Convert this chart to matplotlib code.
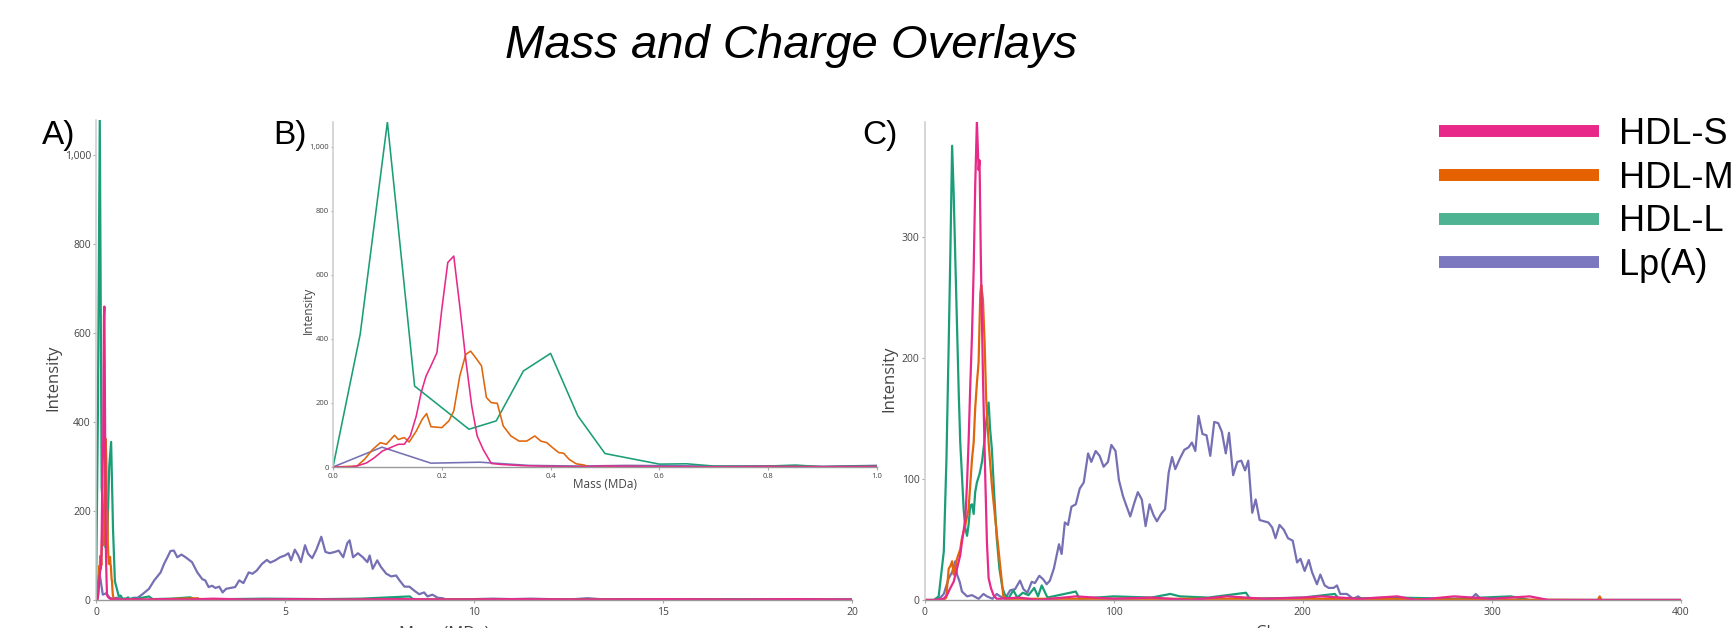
import matplotlib.pyplot as plt
from matplotlib.ticker import FuncFormatter, MultipleLocator
from matplotlib.lines import Line2D

plt.rcParams['font.family'] = ['Open Sans', 'DejaVu Sans']

# ---------------------------------------------------------------
# data (mass in MDa, charge in e)
series = ['HDL-S', 'HDL-M', 'HDL-L', 'Lp(A)']

mass_s_x = [0.0, 0.03, 0.044, 0.062, 0.076, 0.091, 0.105, 0.12, 0.131, 0.142, 0.153, 0.162, 0.171, 0.18,
            0.191, 0.2, 0.211, 0.222, 0.233, 0.244, 0.255, 0.265, 0.276, 0.291, 0.309, 0.35, 0.4, 0.45, 0.5,
            0.6, 0.7, 0.8, 0.9, 1.0, 1.3, 1.8, 2.4, 3.1, 4.0, 5.2, 6.5, 8.0, 9.5, 11.0, 13.0, 15.0, 17.0, 18.5, 20.0]
mass_s_y = [0, 0, 3, 13, 29, 50, 60, 71, 71, 97, 159, 232, 284, 316,
            357, 493, 639, 659, 503, 336, 191, 97, 55, 11, 8, 4, 2, 1, 3,
            1, 1, 2, 1, 2, 1, 2, 1, 3, 1, 2, 1, 2, 1, 2, 1, 2, 1, 2, 1]

mass_m_x = [0.0, 0.044, 0.058, 0.073, 0.087, 0.098, 0.113, 0.12, 0.131, 0.14, 0.153, 0.164, 0.172, 0.18, 0.2,
            0.213, 0.222, 0.233, 0.244, 0.253, 0.262, 0.273, 0.282, 0.291, 0.302, 0.313, 0.327, 0.342, 0.356,
            0.371, 0.382, 0.393, 0.404, 0.415, 0.424, 0.434, 0.447, 0.462, 0.47, 0.55, 0.7, 0.85, 1.0, 2.7,
            2.75, 5.0, 10.0, 20.0]
mass_m_y = [0, 3, 24, 55, 76, 71, 99, 86, 92, 78, 112, 149, 167, 126, 123,
            144, 175, 284, 352, 362, 342, 316, 217, 201, 199, 128, 97, 81, 81,
            97, 81, 76, 60, 45, 43, 24, 10, 6, 0, 1, 0, 1, 0, 4,
            0, 0, 1, 0]

mass_l_x = [0.0, 0.05, 0.1, 0.15, 0.25, 0.3, 0.35, 0.4, 0.45, 0.5, 0.6, 0.65, 0.7, 0.75, 0.8, 0.85, 0.9, 0.95,
            1.0, 1.1, 1.4, 1.5, 2.0, 2.5, 2.6, 3.5, 4.5, 6.0, 7.0, 8.3, 8.4, 10.0, 12.0, 15.0, 20.0]
mass_l_y = [0, 415, 1078, 253, 118, 144, 300, 355, 160, 42, 9, 10, 3, 3, 3, 6, 1, 3,
            4, 3, 8, 2, 3, 6, 1, 2, 3, 2, 3, 8, 1, 2, 1, 2, 1]

mass_lpa_x = [0.0, 0.09, 0.18, 0.27, 0.36, 0.45, 0.54, 0.63, 0.72, 0.81, 0.9, 1.0,
              1.1, 1.23, 1.40, 1.54, 1.71, 1.80, 1.89, 1.97, 2.06, 2.15,
              2.26, 2.37, 2.54, 2.68, 2.81, 2.89, 2.98, 3.07, 3.16, 3.26,
              3.35, 3.44, 3.55, 3.68, 3.79, 3.90, 4.04, 4.14, 4.25, 4.39,
              4.52, 4.61, 4.74, 4.87, 5.00, 5.09, 5.16, 5.26, 5.35, 5.42,
              5.53, 5.61, 5.72, 5.83, 5.96, 6.07, 6.18, 6.32, 6.42, 6.54,
              6.65, 6.71, 6.80, 6.93, 7.06, 7.18, 7.24, 7.32, 7.44, 7.54,
              7.68, 7.81, 7.94, 8.03, 8.16, 8.29, 8.42, 8.55, 8.68, 8.77,
              8.90, 9.04, 9.17, 9.30, 9.43, 9.56,
              9.7, 10.0, 10.5, 11.0, 11.5, 12.0, 12.5, 13.0, 13.5, 14.0, 15.0, 16.0, 17.0, 18.0, 19.0, 20.0]
mass_lpa_y = [0, 62, 12, 15, 5, 3, 5, 4, 2, 3, 2, 5,
              5, 13, 25, 44, 62, 81, 96, 110, 111, 96,
              102, 96, 85, 62, 47, 44, 29, 32, 27, 30,
              17, 25, 27, 29, 44, 38, 62, 59, 66, 81,
              90, 84, 89, 96, 100, 105, 89, 113, 100, 85,
              123, 104, 94, 113, 142, 108, 105, 108, 111, 96,
              128, 134, 96, 105, 96, 85, 100, 70, 89, 74,
              59, 53, 55, 44, 30, 30, 21, 13, 17, 8,
              12, 5, 4, 0, 2, 0,
              1, 2, 3, 2, 3, 2, 1, 4, 1, 2, 1, 1, 1, 2, 1, 1]

charge_s_x = [0, 5, 10, 11.9, 13.7, 15.4, 17.2, 18.9, 19.8, 21.6, 22.5, 23.3, 24.2, 25.1, 26.0, 26.8, 27.7,
              28.6, 29.1, 29.8, 30.9, 32.1, 33.0, 33.9, 35.1, 36.5, 38.2, 40, 50, 60, 80, 100, 120, 140, 160,
              180, 200, 210, 230, 250, 260, 280, 300, 320, 330, 400]
charge_s_y = [0, 0, 1, 4, 10, 15, 26, 37, 48, 67, 97, 130, 177, 218, 273, 341, 395,
              355, 363, 281, 185, 103, 48, 18, 10, 4, 1, 1, 2, 0, 3, 1, 2, 0, 3,
              1, 2, 3, 1, 3, 0, 3, 1, 3, 0, 0]

charge_m_x = [0, 10, 11.5, 12.8, 13.7, 14.6, 15.4, 17.2, 18.9, 19.8, 21.6, 23.3, 25.1, 26.0, 26.8, 27.7, 28.6,
              29.5, 30.0, 30.9, 31.8, 32.6, 33.9, 35.6, 37.4, 39.1, 40.9, 41.7, 43, 100, 200, 356, 357, 358, 400]
charge_m_y = [0, 0, 2, 26, 28, 32, 21, 34, 42, 51, 62, 75, 116, 130, 158, 179, 196,
              253, 260, 248, 212, 166, 130, 95, 67, 42, 15, 3, 1, 1, 1, 0, 3, 0, 0]

charge_l_x = [0, 5, 7.5, 10.2, 11.6, 12.8, 13.7, 14.6, 15.4, 16.3, 17.2, 18.1, 18.9, 19.8, 20.7, 21.6, 22.5,
              23.3, 24.2, 25.1, 26.0, 26.8, 27.7, 29.1, 30.4, 31.6, 32.6, 33.9, 34.7, 35.6, 36.8, 38.2, 39.6,
              41.2, 42.6, 44.4, 45, 47, 49, 52, 55, 58, 60, 62, 65, 80, 82, 100, 120, 130, 135, 150, 170, 172,
              200, 217, 219, 250, 280, 310, 320, 400]
charge_l_y = [0, 0, 3, 40, 116, 212, 289, 375, 337, 281, 226, 171, 130, 103, 75, 59, 53,
              62, 78, 79, 71, 89, 97, 104, 114, 130, 147, 163, 141, 125, 89, 51, 26,
              10, 4, 1, 3, 8, 2, 6, 4, 10, 3, 12, 2, 7, 1, 3, 2, 5, 3, 2, 6, 1,
              2, 5, 1, 2, 1, 3, 0, 0]

charge_lpa_x = [0, 5, 8.4, 10.2, 12.8, 14.6, 16.3, 17.2, 18.6, 19.8, 22.5, 25.1, 28.6, 31.2, 33.0, 36.0, 38.2,
                40.0, 42.6, 45.3, 47.9, 50.5, 52.3, 54.4, 56.7, 58.4, 60.7, 62.8, 64.6, 66.3, 68.4, 69.9, 71.1,
                72.5, 74.2, 75.9, 77.7, 80.0, 82.1, 84.2, 86.5, 88.2, 90.5, 92.6, 94.7, 97.0, 98.8, 101.0,
                102.8, 104.9, 106.7, 108.8, 111.1, 112.8, 114.9, 116.9, 119.0, 121.1, 122.9, 125.1, 127.2,
                129.1, 130.9, 132.6, 135.1, 137.4, 139.6, 141.4, 143.2, 144.9, 147.0, 149.1, 151.1, 153.2,
                155.3, 157.2, 159.3, 161.0, 163.2, 165.4, 167.5, 169.5, 171.2, 173.3, 175.1, 177.2, 179.5,
                181.8, 183.8, 185.6, 187.7, 190.0, 192.2, 194.7, 197.0, 198.8, 201.0, 203.2, 204.9, 207.5,
                209.3, 211.6, 213.7, 216.3, 218.1, 219.8, 223.3, 226.7, 229.3, 231.9, 240, 260, 285, 289,
                291.5, 294, 300, 330, 400]
charge_lpa_y = [0, 0, 2, 5, 18, 23, 32, 21, 15, 7, 3, 4, 1, 5, 3, 1, 5,
                3, 1, 8, 9, 16, 9, 6, 15, 14, 20, 17, 13, 16, 26, 37, 46,
                38, 64, 62, 77, 79, 92, 97, 121, 114, 123, 119, 110, 114, 128, 123,
                99, 86, 78, 69, 81, 89, 83, 61, 79, 70, 65, 71, 75,
                105, 118, 108, 117, 124, 126, 130, 123, 152, 137, 136, 119, 147,
                146, 139, 121, 138, 103, 114, 115, 107, 115, 72, 83, 66, 65,
                64, 60, 51, 62, 58, 51, 49, 31, 34, 24, 33, 23, 13,
                21, 12, 10, 10, 12, 5, 5, 1, 3, 0, 1, 0, 0, 1,
                5, 1, 0, 0, 0]

line_colors = ['#e7298a', '#e0650b', '#1b9e77', '#7570b3']
legend_colors = ['#e8298a', '#e66100', '#4db392', '#7c78bf']

mass = [(mass_s_x, mass_s_y), (mass_m_x, mass_m_y), (mass_l_x, mass_l_y), (mass_lpa_x, mass_lpa_y)]
charge = [(charge_s_x, charge_s_y), (charge_m_x, charge_m_y), (charge_l_x, charge_l_y), (charge_lpa_x, charge_lpa_y)]

# ---------------------------------------------------------------
W, H = 1734, 628
fig = plt.figure(figsize=(W / 100, H / 100), dpi=100)


def px_box(l, t, r, b):
    return [l / W, 1 - b / H, (r - l) / W, (b - t) / H]


axA = fig.add_axes(px_box(96, 120, 852, 600))
axB = fig.add_axes(px_box(333, 122, 877, 467))
axC = fig.add_axes(px_box(924.5, 121.5, 1681, 600))
axB.set_facecolor('none')

comma = FuncFormatter(lambda v, p: f'{int(v):,}')


def style(ax, fs):
    for s in ['top', 'right']:
        ax.spines[s].set_visible(False)
    ax.spines['left'].set_color('#cccccc')
    ax.spines['left'].set_linewidth(1.1)
    ax.spines['bottom'].set_color('#999999')
    ax.spines['bottom'].set_linewidth(1.0)
    ax.tick_params(axis='both', colors='#444444', labelsize=fs, length=2.5, width=0.8)
    ax.tick_params(axis='both', color='#aaaaaa')
    ax.tick_params(axis='y', pad=1.2)
    ax.tick_params(axis='x', pad=2.5)


order = [3, 2, 1, 0]  # purple first, pink on top

for i in order:
    x, y = mass[i]
    axA.plot(x, y, color=line_colors[i], lw=1.6, solid_joinstyle='round')
    axB.plot(x, y, color=line_colors[i], lw=1.15, solid_joinstyle='round')
    x, y = charge[i]
    axC.plot(x, y, color=line_colors[i], lw=1.6, solid_joinstyle='round')

axA.set_xlim(0, 20)
axA.set_ylim(0, 1078)
axA.xaxis.set_major_locator(MultipleLocator(5))
axA.yaxis.set_major_locator(MultipleLocator(200))
axA.yaxis.set_major_formatter(comma)
style(axA, 7.5)

axB.set_xlim(0, 1.0)
axB.set_ylim(0, 1078)
axB.xaxis.set_major_locator(MultipleLocator(0.2))
axB.xaxis.set_major_formatter(FuncFormatter(lambda v, p: f'{v:.1f}'))
axB.yaxis.set_major_locator(MultipleLocator(200))
axB.yaxis.set_major_formatter(comma)
style(axB, 5.5)
axB.tick_params(length=1.8)

axC.set_xlim(0, 400)
axC.set_ylim(0, 395)
axC.xaxis.set_major_locator(MultipleLocator(100))
axC.yaxis.set_major_locator(MultipleLocator(100))
style(axC, 7.5)

# axis titles (the bottom ones run off the lower edge, as in the source)
lab = dict(color='#444444')
axA.set_ylabel('Intensity', fontsize=12, **lab)
axA.yaxis.set_label_coords(-0.0455, 0.4625)
axA.set_xlabel('Mass (MDa)', fontsize=12, **lab)
axA.xaxis.set_label_coords(0.46, -0.053)
axC.set_ylabel('Intensity', fontsize=12, **lab)
axC.yaxis.set_label_coords(-0.036, 0.4625)
axC.set_xlabel('Charge', fontsize=12, **lab)
axC.xaxis.set_label_coords(0.475, -0.053)
axB.set_ylabel('Intensity', fontsize=8.5, **lab)
axB.yaxis.set_label_coords(-0.0335, 0.455)
axB.set_xlabel('Mass (MDa)', fontsize=8.5, **lab)
axB.xaxis.set_label_coords(0.5, -0.032)
axA.xaxis.label.set_va('top')
axC.xaxis.label.set_va('top')
axB.xaxis.label.set_va('top')

# title and panel tags
fig.text(791 / W, 1 - 46 / H, 'Mass and Charge Overlays', ha='center', va='center',
         fontsize=34, style='italic', family='Liberation Sans')
for tag, xp in [('A)', 42), ('B)', 273), ('C)', 862)]:
    fig.text(xp / W, 1 - 144 / H, tag, fontsize=24, va='baseline', family='Liberation Sans')

handles = [Line2D([], [], color=c, lw=8.6, solid_capstyle='butt') for c in legend_colors]
fig.legend(handles, series, loc='upper left', bbox_to_anchor=(1439 / W, 1 - 117 / H),
           bbox_transform=fig.transFigure, frameon=False, prop={'family': 'Liberation Sans', 'size': 26},
           handlelength=4.43, handletextpad=0.55, labelspacing=0.24, borderpad=0, borderaxespad=0)

fig.savefig('out.png', dpi=100)
